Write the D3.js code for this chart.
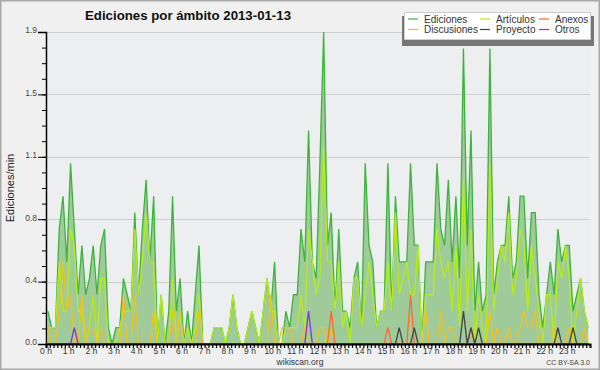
<!DOCTYPE html>
<html>
<head>
<meta charset="utf-8">
<script src="https://cdn.jsdelivr.net/npm/d3@7"></script>
<style>
  body { margin: 0; background: #f0f0f0; }
  svg { display: block; }
  text { font-family: "Liberation Sans", sans-serif; }
</style>
</head>
<body>
<script>
// edits per minute, 10-minute bins, 13 Jan 2013
var ediciones = [0.2,0.1,0.1,0.7,0.9,0.5,1.1,0.7,0.3,0.6, 0.3,0.4,0.6,0.3,0.6,0.7,0.1,0.0,0.1,0.1,
  0.4,0.3,0.2,0.8,0.3,0.7,1.0,0.5,0.9,0.0, 0.3,0.0,0.2,0.9,0.2,0.4,0.0,0.2,0.0,0.3,
  0.6,0.0,0.0,0.0,0.1,0.1,0.1,0.0,0.1,0.3, 0.1,0.0,0.0,0.1,0.2,0.1,0.0,0.2,0.4,0.2,
  0.5,0.0,0.0,0.2,0.1,0.3,0.3,0.7,0.5,1.3, 0.5,0.4,1.1,1.9,0.6,0.8,0.2,0.7,0.2,0.2,
  0.1,0.4,0.5,0.1,1.1,0.6,0.5,0.1,0.2,0.2, 1.1,0.2,0.9,0.5,0.5,0.5,1.1,0.6,0.6,0.0,
  0.5,0.5,0.5,1.1,0.7,0.6,1.0,0.5,0.9,0.4, 1.8,0.6,1.3,0.2,0.5,0.2,0.3,1.8,0.3,0.5,
  0.6,0.6,0.9,0.4,0.5,0.9,0.9,0.4,0.8,0.8, 0.3,0.1,0.3,0.5,0.3,0.7,0.5,0.6,0.6,0.2,
  0.3,0.4,0.2,0.1];
var articulos = [0.1,0.1,0.1,0.5,0.2,0.2,0.7,0.6,0.2,0.2, 0.0,0.1,0.3,0.0,0.4,0.4,0.0,0.0,0.0,0.1,
  0.2,0.2,0.2,0.7,0.3,0.5,0.8,0.5,0.5,0.0, 0.3,0.0,0.0,0.4,0.0,0.2,0.0,0.1,0.0,0.1,
  0.3,0.0,0.0,0.0,0.1,0.1,0.1,0.0,0.1,0.3, 0.1,0.0,0.0,0.1,0.2,0.1,0.0,0.2,0.4,0.2,
  0.2,0.0,0.0,0.1,0.1,0.1,0.1,0.3,0.1,0.7, 0.5,0.3,0.4,1.2,0.5,0.5,0.2,0.5,0.1,0.2,
  0.0,0.4,0.4,0.1,0.3,0.5,0.3,0.1,0.2,0.2, 0.5,0.2,0.8,0.3,0.4,0.5,0.3,0.3,0.6,0.0,
  0.3,0.3,0.3,0.7,0.5,0.4,0.5,0.2,0.6,0.1, 1.0,0.2,0.7,0.0,0.3,0.1,0.0,1.1,0.2,0.4,
  0.6,0.5,0.8,0.3,0.4,0.7,0.6,0.2,0.6,0.4, 0.2,0.0,0.3,0.3,0.0,0.5,0.4,0.6,0.4,0.0,
  0.2,0.4,0.2,0.1];
var discusiones = [0.1,0,0,0.2,0.5,0.2,0.3,0,0,0.3, 0,0.1,0.1,0,0.1,0,0,0,0,0,
  0.3,0,0,0.3,0,0,0,0,0.2,0, 0,0,0,0.2,0,0.2,0,0,0,0,
  0.2,0,0,0,0,0,0,0,0,0, 0,0,0,0,0,0,0,0,0,0.3,
  0,0,0.1,0.1,0.1,0,0,0,0.1,0, 0,0,0.1,0.1,0,0.1,0,0,0,0,
  0,0,0,0,0,0,0,0,0,0, 0,0,0,0,0,0,0,0,0,0,
  0.2,0,0,0,0.2,0,0.1,0.1,0,0, 0,0,0,0,0,0,0,0.2,0,0.1,
  0,0,0.1,0,0,0.1,0.2,0.1,0.1,0.2, 0,0,0,0,0.1,0,0,0,0.1,0,
  0,0,0.1,0];
var anexos = [[75,0.2],[90,0.1],[96,0.3],[112,0.1]];
var proyecto = [[93,0.1],[97,0.1],[110,0.2],[112,0.1],[114,0.1],[135,0.1],[139,0.1]];
var otros = [[7,0.1],[69,0.2]];

var yTicks = [0, 0.38, 0.76, 1.14, 1.52, 1.9];
var hours = d3.range(24);

var seriesNames = ["Ediciones", "Artículos", "Anexos", "Discusiones", "Proyecto", "Otros"];
var seriesColors = ["#3db33d", "#b6ec1c", "#ff6a2a", "#f2c21a", "#444444", "#8a33e0"];

var nBins = ediciones.length;

function sparse(pairs) {
  var arr = d3.range(nBins).map(function () { return 0; });
  pairs.forEach(function (p) { arr[p[0]] = p[1]; });
  return arr;
}

var W = 600, H = 370;
var margin = { top: 32, right: 10, bottom: 26, left: 46 };

var svg = d3.select("body").append("svg")
  .attr("width", W)
  .attr("height", H);

svg.append("rect")
  .attr("x", 0.5).attr("y", 0.5)
  .attr("width", W - 1).attr("height", H - 1)
  .attr("fill", "#f0f0f0")
  .attr("stroke", "#a8a8a8")
  .attr("stroke-width", 2);

var x = d3.scaleLinear().domain([0, nBins]).range([margin.left, W - margin.right]);
var y = d3.scaleLinear().domain([0, 1.9]).range([H - margin.bottom, margin.top]);

svg.append("rect")
  .attr("x", x(0)).attr("y", y(1.9))
  .attr("width", x(nBins) - x(0))
  .attr("height", y(0) - y(1.9))
  .attr("fill", "#edeef0");

// grid
svg.append("g")
  .selectAll("line")
  .data(yTicks.slice(1))
  .enter().append("line")
  .attr("x1", x(0)).attr("x2", x(nBins))
  .attr("y1", function (d) { return Math.round(y(d)) + 0.5; })
  .attr("y2", function (d) { return Math.round(y(d)) + 0.5; })
  .attr("stroke", "#cfcfcf");

var area = d3.area()
  .x(function (d, i) { return x(i + 0.5); })
  .y0(y(0))
  .y1(function (d) { return y(d); });

var line = d3.line()
  .x(function (d, i) { return x(i + 0.5); })
  .y(function (d) { return y(d); });

svg.append("path")
  .datum(ediciones)
  .attr("d", area)
  .attr("fill", "#9fcb9b");

var lines = [
  [articulos, seriesColors[1]],
  [discusiones, seriesColors[3]],
  [sparse(anexos), seriesColors[2]],
  [sparse(proyecto), seriesColors[4]],
  [sparse(otros), seriesColors[5]]
];

svg.append("path")
  .datum(ediciones)
  .attr("d", line)
  .attr("fill", "none")
  .attr("stroke", seriesColors[0])
  .attr("stroke-width", 1.3);

lines.forEach(function (l) {
  svg.append("path")
    .datum(l[0])
    .attr("d", line)
    .attr("fill", "none")
    .attr("stroke", l[1])
    .attr("stroke-width", 1.3);
});

// y axis
var yAxis = d3.axisLeft(y)
  .tickValues(yTicks)
  .tickFormat(d3.format(".1f"))
  .tickSize(8)
  .tickPadding(1);

var gy = svg.append("g")
  .attr("transform", "translate(" + x(0) + ",0)")
  .call(yAxis);
gy.select(".domain").attr("stroke", "#000").attr("stroke-width", 1.5);
gy.selectAll("text").attr("font-size", 8.5).attr("fill", "#444")
  .attr("font-family", "Liberation Sans").attr("dy", "0.1em");

svg.append("g")
  .attr("transform", "translate(" + x(0) + ",0)")
  .call(d3.axisLeft(y).tickValues(d3.range(0, 20).map(function (i) { return i * 0.095; })).tickSize(4).tickFormat(""))
  .call(function (g) { g.select(".domain").remove(); });

// x axis
var xAxis = d3.axisBottom(x)
  .tickValues(d3.range(0, nBins + 1))
  .tickSize(4)
  .tickFormat("");

var gx = svg.append("g")
  .attr("transform", "translate(0," + y(0) + ")")
  .call(xAxis);
gx.select(".domain").attr("stroke", "#000").attr("stroke-width", 2);
gx.selectAll(".tick line").attr("stroke-width", 1.2);

svg.append("g")
  .selectAll("text")
  .data(hours)
  .enter().append("text")
  .attr("x", function (h) { return x(h * 6); })
  .attr("y", y(0) + 9.5)
  .attr("text-anchor", "middle")
  .attr("font-size", 8.5)
  .attr("fill", "#333")
  .text(function (h) { return h + " h"; });

// title and labels
svg.append("text")
  .attr("x", 85).attr("y", 20)
  .attr("font-size", 13)
  .attr("font-weight", "bold")
  .attr("font-family", "DejaVu Sans")
  .attr("textLength", 206)
  .attr("lengthAdjust", "spacingAndGlyphs")
  .attr("fill", "#111")
  .text("Ediciones por ámbito  2013-01-13");

svg.append("text")
  .attr("transform", "translate(14," + (y(0.95)) + ") rotate(-90)")
  .attr("text-anchor", "middle")
  .attr("font-size", 11)
  .attr("font-family", "DejaVu Sans Mono")
  .attr("fill", "#222")
  .text("Ediciones/min");

svg.append("text")
  .attr("x", 300).attr("y", 365)
  .attr("text-anchor", "middle")
  .attr("font-size", 8.5)
  .attr("fill", "#333")
  .text("wikiscan.org");

svg.append("text")
  .attr("x", 590).attr("y", 365)
  .attr("text-anchor", "end")
  .attr("font-size", 7)
  .attr("fill", "#444")
  .text("CC BY-SA  3.0");

// legend
var lg = svg.append("g").attr("transform", "translate(404,12)");
lg.append("rect")
  .attr("x", -2).attr("y", 4)
  .attr("width", 192).attr("height", 30)
  .attr("fill", "#777");
lg.append("rect")
  .attr("x", 0.5).attr("y", 0.5)
  .attr("width", 186).attr("height", 27)
  .attr("fill", "#fff")
  .attr("stroke", "#ccc");

var colX = [4, 76, 135];
var item = lg.selectAll(".item")
  .data(seriesNames)
  .enter().append("g")
  .attr("transform", function (d, i) {
    return "translate(" + colX[i % 3] + "," + (Math.floor(i / 3) * 10.5 + 7) + ")";
  });
item.append("line")
  .attr("x1", 0).attr("x2", 10)
  .attr("stroke", function (d, i) { return seriesColors[i]; })
  .attr("stroke-width", 1.2);
item.append("text")
  .attr("x", 16).attr("y", 3.5)
  .attr("font-size", 10)
  .attr("fill", "#333")
  .text(function (d) { return d; });
</script>
</body>
</html>
